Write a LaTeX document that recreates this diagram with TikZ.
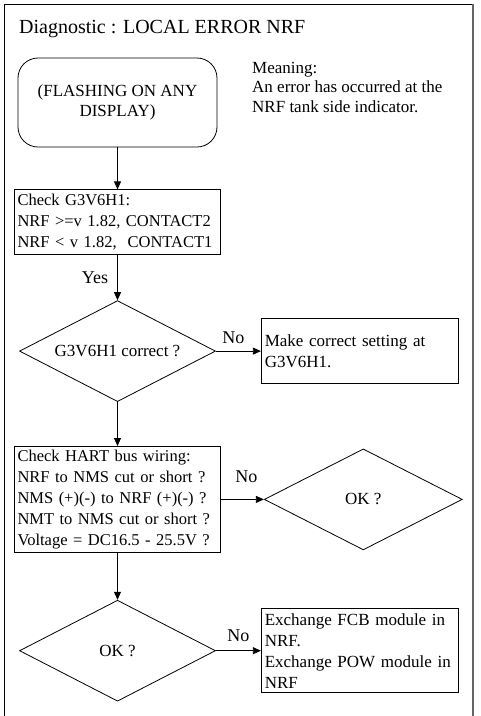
\documentclass[tikz,border=0pt]{standalone}
\usepackage{fontspec}
\setmainfont{Liberation Serif}
\usepackage{tikz}
\usetikzlibrary{arrows.meta,positioning,shapes.geometric}

\begin{document}
\begin{tikzpicture}[x=1pt,y=-1pt,
  startbox/.style={draw,line width=0.8pt,rounded corners=20pt,align=center,
    font=\fontsize{17}{20}\selectfont,minimum width=199pt,minimum height=89pt},
  chkbox/.style={draw,line width=0.8pt,align=left,font=\fontsize{16.5}{21}\selectfont,
    text width=200pt,inner xsep=3pt,inner ysep=0pt},
  fixbox/.style={draw,line width=0.8pt,align=left,font=\fontsize{17}{21}\selectfont,
    text width=190pt,inner xsep=3.5pt,inner ysep=0pt},
  decision/.style={draw,line width=0.8pt,diamond,aspect=2,inner sep=0pt,
    font=\fontsize{17}{21}\selectfont,minimum width=196pt,minimum height=101pt},
  lbl/.style={font=\fontsize{18}{21}\selectfont,inner sep=1pt},
  arr/.style={-{Triangle[length=8pt,width=7pt]},line width=0.8pt}]
  \useasboundingbox (0,0) rectangle (481,716);
  % frame
  \draw[line width=0.8pt] (4,716) -- (4,4) -- (473,4);
  \draw[line width=1.5pt,black!60] (473,4) -- (473,716);
  \node[anchor=base west,font=\fontsize{20}{24}\selectfont,inner sep=0pt] (title) at (19,33)
    {Diagnostic : LOCAL ERROR NRF};
  \node[anchor=north west,align=left,font=\fontsize{17}{19.5}\selectfont,inner sep=0pt] (meaning) at (252,62)
    {Meaning:\\An error has occurred at the\\NRF tank side indicator.};

  \node[startbox] (start) at (117.5,102.5) {(FLASHING ON ANY\\DISPLAY)};
  \node[chkbox,minimum height=65pt,below=42pt of start] (chk1)
    {Check G3V6H1:\\NRF >=v 1.82, CONTACT2\\NRF < v 1.82,\ \ CONTACT1};
  \node[decision,below=45pt of chk1] (dec1) {G3V6H1 correct ?};
  \node[fixbox,minimum height=65pt,right=45pt of dec1] (fix1)
    {Make correct setting at\\G3V6H1.};
  \node[chkbox,minimum height=106pt,below=44pt of dec1] (chk2)
    {Check HART bus wiring:\\NRF to NMS cut or short ?\\NMS (+)(-) to NRF (+)(-) ?\\NMT to NMS cut or short ?\\Voltage = DC16.5 - 25.5V ?};
  \node[decision,minimum width=198pt,right=43pt of chk2] (dec2) {OK ?};
  \node[decision,below=47pt of chk2] (dec3) {OK ?};
  \node[fixbox,minimum height=84pt,right=45pt of dec3] (fix2)
    {Exchange FCB module in\\NRF.\\Exchange POW module in\\NRF};

  \draw[arr] (start) -- (chk1);
  \draw[arr] (chk1) -- node[lbl,left=8pt] {Yes} (dec1);
  \draw[arr] (dec1) -- node[lbl,above=6pt,xshift=-5pt] {No} (fix1);
  \draw[arr] (dec1) -- (chk2);
  \draw[arr] (chk2) -- node[lbl,above=15pt,xshift=4pt] {No} (dec2);
  \draw[arr] (chk2) -- (dec3);
  \draw[arr] (dec3.east) -- node[lbl,above=8pt] {No} (fix2.west |- dec3.east);
\end{tikzpicture}
\end{document}
